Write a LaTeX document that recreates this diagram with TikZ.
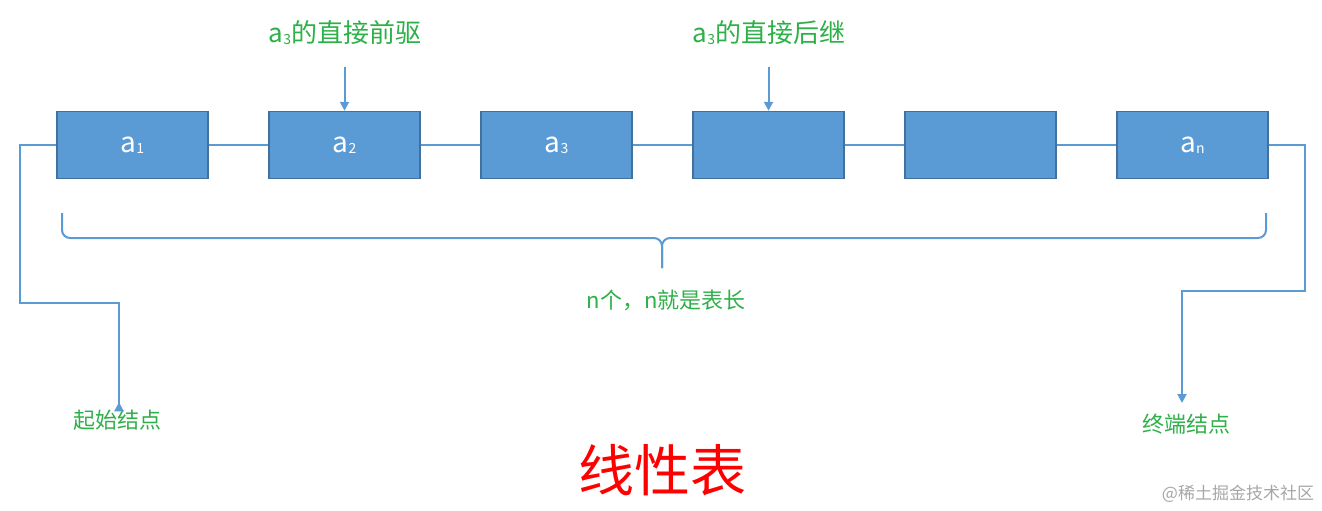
\documentclass[tikz,border=0pt]{standalone}
\usepackage{fontspec}
\setmainfont{Noto Sans CJK SC}
\usetikzlibrary{arrows.meta}
\definecolor{bl}{HTML}{5B9BD5}
\definecolor{bd}{HTML}{41719C}
\definecolor{gr}{HTML}{2DB048}
\tikzset{
  elem/.style={draw=bd,line width=1.5pt,fill=bl,minimum width=151pt,minimum height=67pt,inner sep=0pt,text=white,font=\fontsize{28}{30}\selectfont},
  wire/.style={draw=bl,line width=2pt},
  arr/.style={wire,-{Triangle[length=9pt,width=9pt]}},
  lab/.style={text=gr,font=\fontsize{26}{28}\selectfont},
  slab/.style={text=gr,font=\fontsize{22}{24}\selectfont},
}
\newcommand{\sbx}[1]{\raisebox{-0.05em}{\fontsize{14}{14}\selectfont #1}}
\begin{document}
\begin{tikzpicture}[x=1pt,y=-1pt]
\useasboundingbox (0,0) rectangle (1322,511);
\node[elem] (b1) at (132.5,145) {a\sbx{1}};
\node[elem] (b2) at (344.5,145) {a\sbx{2}};
\node[elem] (b3) at (556.5,145) {a\sbx{3}};
\node[elem] (b4) at (768.5,145) {};
\node[elem] (b5) at (980.5,145) {};
\node[elem] (b6) at (1192.5,145) {a\sbx{n}};
\foreach \a/\b in {b1/b2,b2/b3,b3/b4,b4/b5,b5/b6} \draw[wire] (\a.east)--(\b.west);
\node[lab] (pre) at (345,33) {a\sbx{3}的直接前驱};
\node[lab] (suc) at (769,33) {a\sbx{3}的直接后继};
\draw[arr] (pre.south -| b2.north) ++(0,18) -- (b2.north);
\draw[arr] (suc.south -| b4.north) ++(0,18) -- (b4.north);
\coordinate (bl1) at (62,213);
\coordinate (br1) at (1266,213);
\coordinate (tip) at (662,268);
\draw[wire,rounded corners=8pt] (bl1) |- (662,238) -- (tip);
\draw[wire,rounded corners=8pt] (tip) -- (662,238) -| (br1);
\node[slab] (len) at (666,300) {n个，n就是表长};
\node[slab] (start) at (117,420) {起始结点};
\node[slab] (end) at (1186,424) {终端结点};
\draw[arr] (b1.west) -- (20,145) -- (20,303) -- (119,303) -- (start.north -| 119,0) ++(0,-4);
\draw[arr] (b6.east) -- (1305,145) -- (1305,291) -- (1182,291) -- (1182,403);
\node[text=red,font=\fontsize{56}{60}\selectfont] (title) at (662,470) {线性表};
\node[text=gray!70,font=\fontsize{17}{18}\selectfont] (wm) at (1238,494) {@稀土掘金技术社区};
\end{tikzpicture}
\end{document}
